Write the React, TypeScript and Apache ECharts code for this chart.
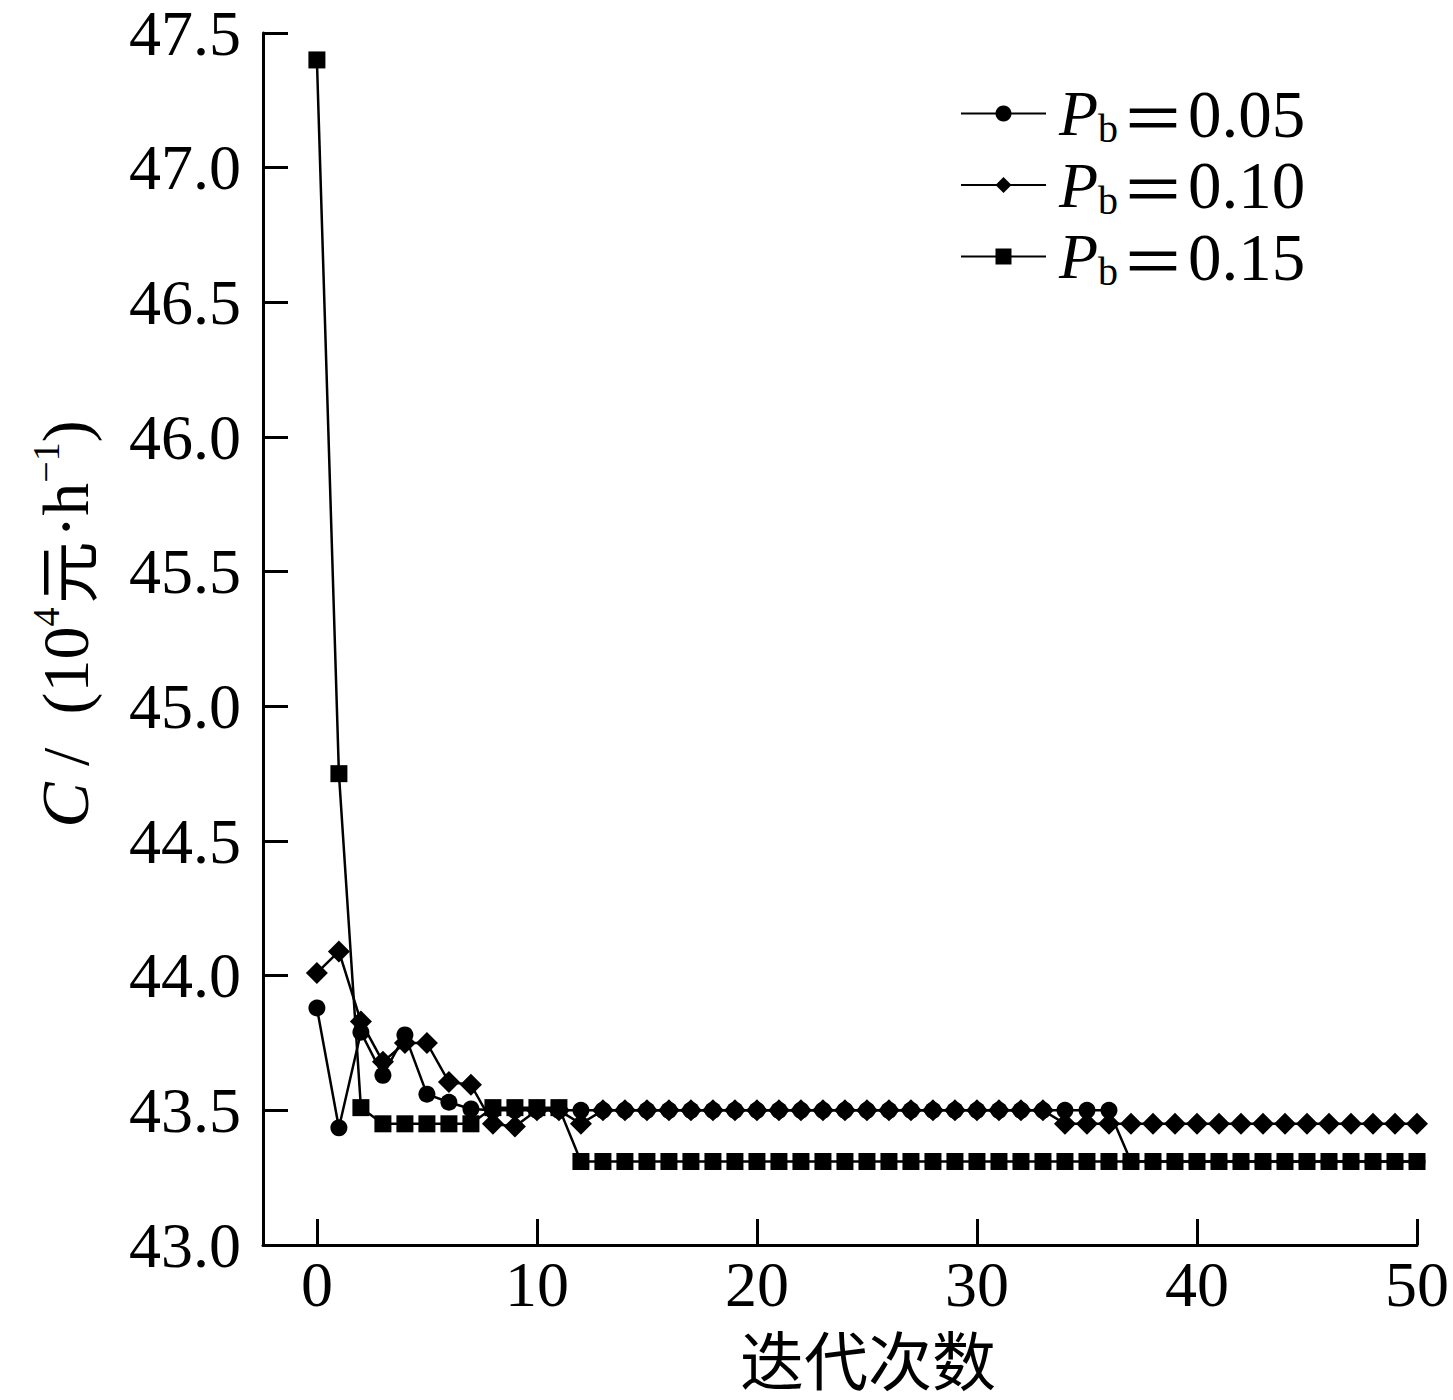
import { useEffect, useRef } from "react";
import * as echarts from "echarts";

// iteration count runs 0..50; one value per iteration
const PB_LABELS = ["0.05", "0.10", "0.15"];

const COST_PB05 = [
  43.88, 43.435, 43.79, 43.63, 43.78, 43.56, 43.53, 43.505, 43.5, 43.5,
  43.5, 43.5, 43.5, 43.5, 43.5, 43.5, 43.5, 43.5, 43.5, 43.5,
  43.5, 43.5, 43.5, 43.5, 43.5, 43.5, 43.5, 43.5, 43.5, 43.5,
  43.5, 43.5, 43.5, 43.5, 43.5, 43.5, 43.5, 43.31, 43.31, 43.31,
  43.31, 43.31, 43.31, 43.31, 43.31, 43.31, 43.31, 43.31, 43.31, 43.31,
  43.31,
];

const COST_PB10 = [
  44.01, 44.09, 43.83, 43.68, 43.75, 43.75, 43.605, 43.595, 43.45, 43.44,
  43.5, 43.5, 43.45, 43.5, 43.5, 43.5, 43.5, 43.5, 43.5, 43.5,
  43.5, 43.5, 43.5, 43.5, 43.5, 43.5, 43.5, 43.5, 43.5, 43.5,
  43.5, 43.5, 43.5, 43.5, 43.45, 43.45, 43.45, 43.45, 43.45, 43.45,
  43.45, 43.45, 43.45, 43.45, 43.45, 43.45, 43.45, 43.45, 43.45, 43.45,
  43.45,
];

const COST_PB15 = [
  47.4, 44.75, 43.51, 43.45, 43.45, 43.45, 43.45, 43.45, 43.51, 43.51,
  43.51, 43.51, 43.31, 43.31, 43.31, 43.31, 43.31, 43.31, 43.31, 43.31,
  43.31, 43.31, 43.31, 43.31, 43.31, 43.31, 43.31, 43.31, 43.31, 43.31,
  43.31, 43.31, 43.31, 43.31, 43.31, 43.31, 43.31, 43.31, 43.31, 43.31,
  43.31, 43.31, 43.31, 43.31, 43.31, 43.31, 43.31, 43.31, 43.31, 43.31,
  43.31,
];

const X_TICKS = [0, 10, 20, 30, 40, 50];

const SERIF = '"Liberation Serif", "Times New Roman", serif';
const CJK = '"Noto Sans CJK SC", sans-serif';

const App = () => {
  const chartRef = useRef<HTMLDivElement>(null);

  useEffect(() => {
    document.body.style.margin = "0";
    if (!chartRef.current) return;
    const chart = echarts.init(chartRef.current, undefined, { renderer: "svg" });

    const lineStyle = { color: "#000", width: 2.5 };
    const toPairs = (vals: number[]) => vals.map((v, i) => [i, v]);

    const option: echarts.EChartsOption = {
      animation: false,
      backgroundColor: "#fff",
      grid: { left: 263, right: 36, top: 33, bottom: 155, outerBoundsMode: "none" } as any,
      legend: {
        left: 955,
        top: 75,
        orient: "vertical",
        itemWidth: 85,
        itemHeight: 20,
        itemGap: 3,
        data: PB_LABELS.map((p) => `Pb=${p}`),
        formatter: (name: string) => `{i|P}{sub|b}{eq|＝}{t|${name.split("=")[1]}}`,
        textStyle: {
          color: "#000",
          rich: {
            i: { fontFamily: SERIF, fontStyle: "italic", fontSize: 64, lineHeight: 70, padding: [0, 0, 0, 8] },
            sub: { fontFamily: SERIF, fontSize: 40, lineHeight: 70, verticalAlign: "bottom" },
            eq: { fontFamily: CJK, fontSize: 64, lineHeight: 70, padding: [0, 3, 0, 3] },
            t: { fontFamily: SERIF, fontSize: 67, lineHeight: 70 },
          },
        },
      },
      xAxis: {
        type: "value",
        min: -2.45,
        max: 50,
        splitLine: { show: false },
        axisLine: { onZero: false, lineStyle: { color: "#000", width: 3 } },
        axisTick: {
          inside: true,
          length: 26,
          customValues: X_TICKS,
          lineStyle: { color: "#000", width: 3 },
        },
        axisLabel: {
          customValues: X_TICKS,
          color: "#000",
          fontFamily: SERIF,
          fontSize: 64,
          lineHeight: 50,
          margin: 14,
        },
        name: "迭代次数",
        nameLocation: "middle",
        nameGap: 80,
        nameTextStyle: {
          color: "#000",
          fontFamily: CJK,
          fontSize: 64,
          lineHeight: 64,
          padding: [0, 0, 0, 56],
        },
      },
      yAxis: {
        type: "value",
        min: 43,
        max: 47.5,
        interval: 0.5,
        splitLine: { show: false },
        axisLine: { onZero: false, lineStyle: { color: "#000", width: 3 } },
        axisTick: { inside: true, length: 25, lineStyle: { color: "#000", width: 3 } },
        axisLabel: {
          color: "#000",
          fontFamily: SERIF,
          fontSize: 64,
          lineHeight: 50,
          margin: 22,
          formatter: (v: number) => v.toFixed(1),
        },
        name: "{i|C}{t| /  (10}{sup|4}{c|元}{t|·h}{sup|−1}{t|)}",
        nameLocation: "middle",
        nameRotate: 90,
        nameGap: 160,
        nameTextStyle: {
          color: "#000",
          padding: [0, 0, 0, 30],
          rich: {
            i: { fontFamily: SERIF, fontStyle: "italic", fontSize: 68, lineHeight: 76 },
            t: { fontFamily: SERIF, fontSize: 66, lineHeight: 76 },
            sup: { fontFamily: SERIF, fontSize: 38, lineHeight: 76, verticalAlign: "top" },
            c: { fontFamily: CJK, fontSize: 62, lineHeight: 76, padding: [0, 4, 0, 4] },
          },
          fontFamily: SERIF,
          fontSize: 66,
          lineHeight: 76,
        },
      },
      series: [
        {
          name: `Pb=${PB_LABELS[0]}`,
          type: "line",
          data: toPairs(COST_PB05),
          symbol: "circle",
          symbolSize: 17,
          lineStyle,
          itemStyle: { color: "#000" },
          z: 2,
        },
        {
          name: `Pb=${PB_LABELS[1]}`,
          type: "line",
          data: toPairs(COST_PB10),
          symbol: "diamond",
          symbolSize: 22,
          lineStyle,
          itemStyle: { color: "#000" },
          z: 3,
        },
        {
          name: `Pb=${PB_LABELS[2]}`,
          type: "line",
          data: toPairs(COST_PB15),
          symbol: "rect",
          symbolSize: 17,
          lineStyle,
          itemStyle: { color: "#000" },
          z: 4,
        },
      ],
    };

    chart.setOption(option);
    return () => chart.dispose();
  }, []);

  return <div ref={chartRef} style={{ width: 1453, height: 1400 }} />;
};

export default App;
